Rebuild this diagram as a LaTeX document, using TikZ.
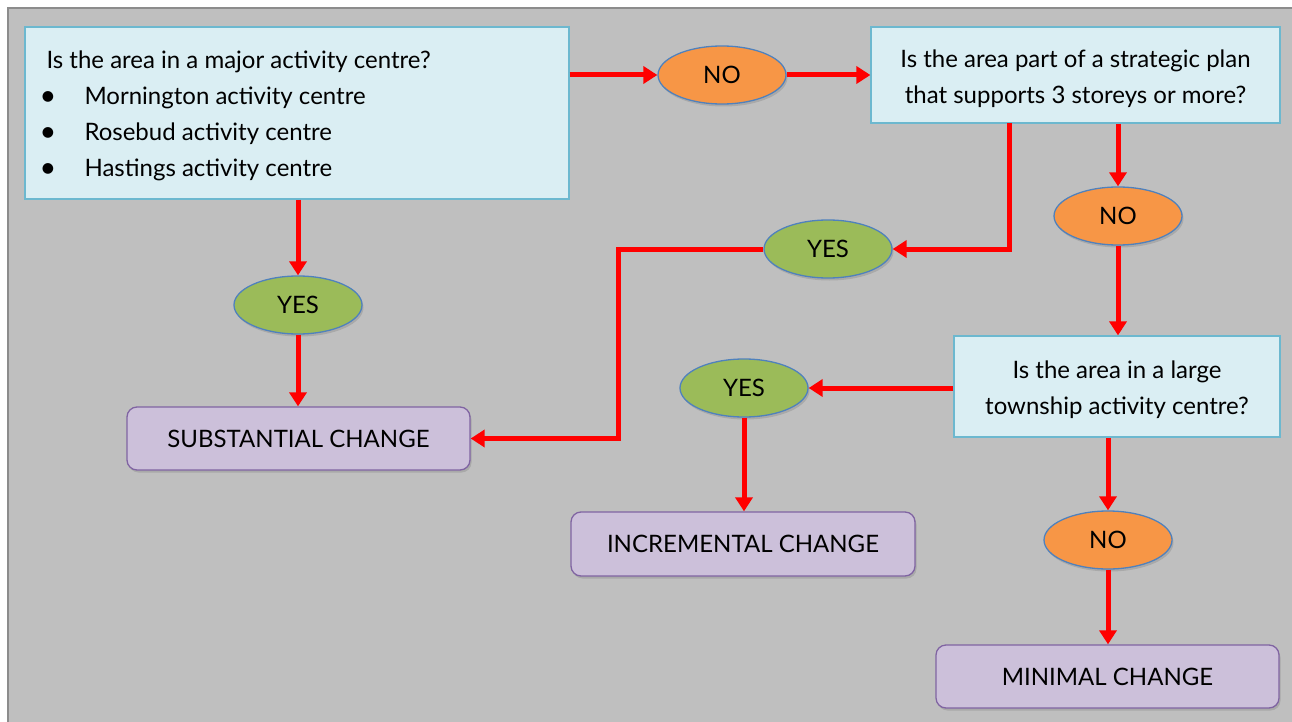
\documentclass[tikz,border=0pt]{standalone}
\usepackage{fontspec}
\setmainfont{Lato}
\usetikzlibrary{arrows.meta,shapes.geometric,shadows}
\definecolor{bgray}{HTML}{BFBFBF}
\definecolor{bgborder}{HTML}{8C8C8C}
\definecolor{qfill}{HTML}{DAEEF3}
\definecolor{qborder}{HTML}{6CB8CF}
\definecolor{nofill}{HTML}{F79646}
\definecolor{yesfill}{HTML}{9BBB59}
\definecolor{ovborder}{HTML}{4F81BD}
\definecolor{rfill}{HTML}{CCC0DA}
\definecolor{rborder}{HTML}{8064A2}
\definecolor{arrred}{HTML}{FF0000}
\begin{document}
\begin{tikzpicture}[x=1pt,y=-1pt,
  txt/.style={font=\fontsize{24}{36}\selectfont, text=black},
  q/.style={draw=qborder, line width=1.2pt, fill=qfill, inner sep=0pt, align=center, txt},
  ov/.style={ellipse, draw=ovborder, line width=1.3pt, minimum width=128pt, minimum height=58pt, inner sep=0pt, txt,
    drop shadow={shadow xshift=1.5pt, shadow yshift=-2.5pt, opacity=0.35}},
  nobub/.style={ov, fill=nofill},
  yesbub/.style={ov, fill=yesfill},
  res/.style={draw=rborder, line width=1.3pt, fill=rfill, rounded corners=10pt, inner sep=0pt, txt,
    drop shadow={shadow xshift=1.5pt, shadow yshift=-2.5pt, opacity=0.35}},
  arr/.style={draw=arrred, line width=5pt, -{Triangle[width=17pt,length=14pt]}}
]
\useasboundingbox (0,0) rectangle (1292,722);
\fill[white] (0,0) rectangle (1292,722);
\filldraw[fill=bgray, draw=bgborder, line width=1.5pt] (8,8) rectangle (1300,730);

% question boxes
\node[q, minimum width=544pt, minimum height=172pt] (box1) at (297,113) {};
\node[txt, anchor=base west] (t1) at (43,69) {Is the area in a major activity centre?};
\node[txt, anchor=base west] (t2) at (81,105) {Mornington activity centre};
\node[txt, anchor=base west] (t3) at (81,141) {Rosebud activity centre};
\node[txt, anchor=base west] (t4) at (81,177) {Hastings activity centre};
\node[txt, anchor=base, scale=1.2] (b2) at (48,106) {\textbullet};
\node[txt, anchor=base, scale=1.2] (b3) at (48,142) {\textbullet};
\node[txt, anchor=base, scale=1.2] (b4) at (48,178) {\textbullet};

\node[q, minimum width=409pt, minimum height=96pt] (box2) at (1075.5,75) {};
\node[txt, align=center] (t5) at (1075.5,79) {Is the area part of a strategic plan\\that supports 3 storeys or more?};
\node[q, minimum width=326pt, minimum height=101pt] (box3) at (1117,386.5) {};
\node[txt, align=center] (t6) at (1117,390) {Is the area in a large\\township activity centre?};

% bubbles
\node[nobub] (no1) at (722,75) {NO};
\node[yesbub] (yes1) at (828,249) {YES};
\node[nobub] (no2) at (1118,216) {NO};
\node[yesbub] (yesl) at (298,305) {YES};
\node[yesbub] (yes3) at (744,388) {YES};
\node[nobub] (no3) at (1108,540) {NO};

% results
\node[res, minimum width=343pt, minimum height=63pt] (subst) at (298.5,438.5) {SUBSTANTIAL CHANGE};
\node[res, minimum width=344pt, minimum height=64pt] (incr) at (743,544) {INCREMENTAL CHANGE};
\node[res, minimum width=343pt, minimum height=63pt] (minimal) at (1107.5,676.5) {MINIMAL CHANGE};

\coordinate (c2) at (1009,123);
\coordinate (c1) at (618,249);

% connectors
\draw[arr] (box1.east |- no1) -- (no1.west);
\draw[arr] (no1.east) -- (box2.west |- no1);
\draw[arr] (c2) |- (yes1.east);
\draw[arr] (yes1.west) -- (c1) |- (subst.east);
\draw[arr] (box2.south -| no2) -- (no2.north);
\draw[arr] (no2.south) -- (box3.north -| no2);
\draw[arr] (box3.west |- yes3) -- (yes3.east);
\draw[arr] (yes3.south) -- (incr.north -| yes3);
\draw[arr] (box3.south -| no3) -- (no3.north);
\draw[arr] (no3.south) -- (minimal.north -| no3);
\draw[arr] (box1.south -| yesl) -- (yesl.north);
\draw[arr] (yesl.south) -- (subst.north -| yesl);
\end{tikzpicture}
\end{document}
